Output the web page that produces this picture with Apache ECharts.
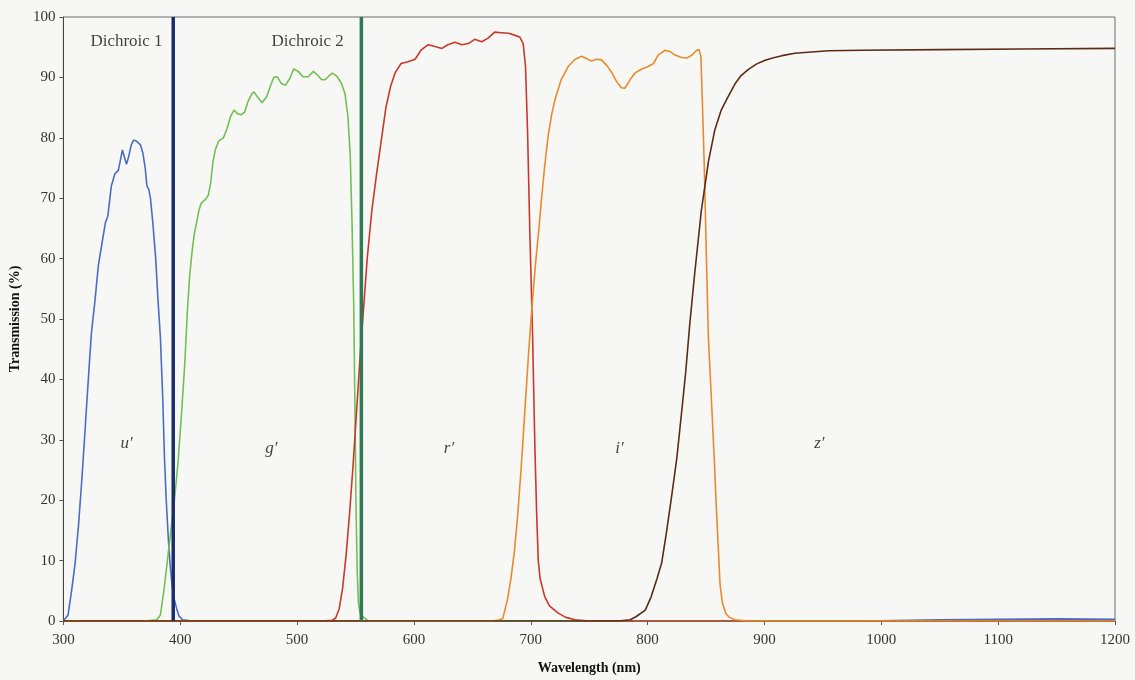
<!DOCTYPE html>
<html>
<head>
<meta charset="utf-8">
<script src="https://cdn.jsdelivr.net/npm/echarts@6/dist/echarts.min.js"></script>
<style>
html, body { margin: 0; padding: 0; background: #f7f8f6; }
#container { width: 1135px; height: 680px; }
</style>
</head>
<body>
<div id="container"></div>
<script>
// filter transmission curves, wavelength (nm) / transmission (%)
var uWl  = [300, 301, 304, 307, 310, 313, 316, 319, 322, 324, 327, 330, 333, 336, 338, 341, 344, 347, 349, 350.5, 352, 354, 356, 358, 360, 362, 364, 366, 368, 370, 371.5, 373, 374.5, 376.5, 379, 381, 383, 385, 386.5, 388, 390, 391.5, 393, 395, 397, 399, 402, 410, 600, 900, 1000, 1050, 1100, 1150, 1200];
var uVal = [0, 0, 1, 5, 9.5, 16, 24, 33, 42, 47.7, 53, 59, 62.5, 66, 67, 72, 74, 74.6, 76.5, 78, 77, 75.6, 77, 78.8, 79.6, 79.5, 79.2, 78.8, 77.5, 75, 72, 71.5, 70, 66, 60, 53, 47, 37, 27, 20, 13, 9, 6, 3.5, 2, 0.8, 0.2, 0, 0, 0, 0.05, 0.2, 0.3, 0.35, 0.3];

var gWl  = [300, 370, 380, 383, 386, 389, 392, 395, 398, 401, 404, 406, 408, 410, 412, 414, 416, 418, 421.5, 424, 426, 428, 430, 433, 437, 440, 443, 446, 449, 452, 455, 458, 461, 463, 466, 470, 474, 477, 480, 483, 486.5, 490, 494, 497, 501, 505, 509.5, 514, 517.5, 521, 524, 527, 530, 534, 538, 541, 543.5, 545.5, 547, 548.5, 549.5, 550.5, 551.5, 552.5, 554, 557, 561, 1200];
var gVal = [0, 0, 0.2, 1, 5, 10, 15, 20, 26, 34, 43, 51, 57, 61, 64, 66, 68, 69.2, 69.8, 70.5, 72.5, 76, 78, 79.5, 80, 81.5, 83.5, 84.6, 84, 83.8, 84.2, 86, 87.2, 87.6, 86.8, 85.8, 86.8, 88.5, 90, 90.1, 89, 88.7, 89.9, 91.4, 91, 90.1, 90.1, 91, 90.4, 89.6, 89.6, 90.2, 90.7, 90.2, 89, 87.3, 83.5, 77, 66, 52, 35, 18, 8, 3, 1.2, 0.6, 0, 0];

var rWl  = [300, 520, 530, 533, 536, 539, 542, 545, 548, 551, 554, 557, 560, 564, 568, 572, 576, 580, 584, 589, 595, 601, 606, 612, 618, 624, 629, 635, 641, 646.5, 652, 658, 663.5, 669, 675, 681, 686, 690.5, 693.5, 695.5, 697.3, 699.2, 701.5, 703.5, 705, 706.4, 708, 712, 716, 723.5, 730, 738, 750, 1200];
var rVal = [0, 0, 0.1, 0.5, 2, 5.5, 11, 18, 26, 35, 44, 52, 60, 68, 74, 79.5, 85, 88.5, 90.8, 92.3, 92.6, 93, 94.5, 95.4, 95.1, 94.8, 95.4, 95.8, 95.4, 95.6, 96.3, 95.9, 96.5, 97.5, 97.4, 97.3, 97, 96.7, 95.6, 91.8, 80.7, 64.2, 47.7, 29, 18, 10, 7, 4, 2.5, 1.3, 0.6, 0.2, 0, 0];

var iWl  = [300, 665, 672, 676, 680, 683, 686, 689, 692, 695, 698, 701, 704, 707, 709, 712, 715, 718, 721, 726, 732, 738, 743.5, 748, 752, 756, 760.5, 765, 769, 773.5, 777.5, 780.5, 785, 789, 795, 800.5, 805, 809, 815, 819, 823.5, 829, 833.5, 838, 842, 844, 845.6, 846.8, 848.5, 850.5, 852, 854.5, 857, 859, 860.5, 862, 864, 867, 870, 875, 885, 1200];
var iVal = [0, 0, 0.1, 0.4, 3.5, 7, 11.5, 18, 26, 35, 44, 52, 59, 65, 69.5, 75.5, 80.5, 84, 86.5, 89.6, 91.8, 93, 93.5, 93.1, 92.7, 93, 92.9, 92, 90.9, 89.3, 88.3, 88.2, 89.6, 90.7, 91.4, 91.8, 92.3, 93.7, 94.5, 94.3, 93.7, 93.3, 93.2, 93.7, 94.5, 94.6, 93.5, 86.3, 75.2, 58.7, 47, 37, 27, 18, 12, 6, 3, 1.2, 0.6, 0.2, 0, 0];

var zWl  = [300, 775, 785, 790, 798, 803, 808, 812, 816, 820.5, 825, 829, 832.5, 836, 840, 846, 852, 857.5, 863, 868, 875, 880, 886, 893, 900, 907, 915, 926, 940, 955, 983, 1050, 1120, 1200];
var zVal = [0, 0, 0.2, 0.7, 1.8, 4, 7, 9.6, 14.5, 20.6, 27, 34.4, 41, 49, 57, 68, 76, 81.3, 84.6, 86.5, 89, 90.3, 91.3, 92.2, 92.8, 93.2, 93.6, 94, 94.2, 94.4, 94.5, 94.6, 94.7, 94.8];

// dichroic cut wavelengths
var dichroicWl = [394, 555];

// text labels in the plot (wavelength, transmission)
var noteText = ['Dichroic 1', 'Dichroic 2', 'u\u2032', 'g\u2032', 'r\u2032', 'i\u2032', 'z\u2032'];
var noteX    = [354, 509, 354, 478, 630, 776, 947];
var noteY    = [95.9, 95.9, 29.3, 28.6, 28.6, 28.6, 29.3];
var noteItalic = [false, false, true, true, true, true, true];

var serif = '"Liberation Serif", "DejaVu Serif", serif';

function pairs(xs, ys) {
    return xs.map(function (x, i) { return [x, ys[i]]; });
}

function curve(name, xs, ys, color) {
    return {
        name: name,
        type: 'line',
        showSymbol: false,
        symbol: 'none',
        smooth: false,
        lineStyle: { width: 1.6, color: color },
        data: pairs(xs, ys)
    };
}

function dichroic(name, wl, color) {
    return {
        name: name,
        type: 'line',
        symbol: 'none',
        lineStyle: { width: 3.5, color: color },
        data: [[wl, 0], [wl, 100]],
        z: 5
    };
}

var myChart = echarts.init(document.getElementById('container'));

var option = {
    backgroundColor: '#f7f8f6',
    animation: false,
    grid: {
        left: 62,
        right: 20,
        top: 17,
        bottom: 59,
        show: true,
        borderColor: '#6a6a6a',
        borderWidth: 1
    },
    xAxis: {
        type: 'value',
        min: 300,
        max: 1200,
        interval: 100,
        name: 'Wavelength (nm)',
        nameLocation: 'middle',
        nameGap: 40,
        nameTextStyle: { fontFamily: serif, fontWeight: 'bold', fontSize: 14, color: '#111' },
        axisLine: { lineStyle: { color: '#555', width: 1 } },
        axisTick: { show: true, length: 4, lineStyle: { color: '#555' } },
        axisLabel: {
            fontFamily: serif, fontSize: 15, color: '#333', margin: 12,
            formatter: function (v) { return String(v); }
        },
        splitLine: { show: false }
    },
    yAxis: {
        type: 'value',
        min: 0,
        max: 100,
        interval: 10,
        name: 'Transmission (%)',
        nameLocation: 'middle',
        nameGap: 37,
        nameTextStyle: { fontFamily: serif, fontWeight: 'bold', fontSize: 14, color: '#111' },
        axisLine: { show: true, lineStyle: { color: '#444', width: 1 } },
        axisTick: { show: true, length: 4, lineStyle: { color: '#555' } },
        axisLabel: { fontFamily: serif, fontSize: 15, color: '#333', margin: 8 },
        splitLine: { show: false }
    },
    series: [
        curve("u'", uWl, uVal, '#4a6cc3'),
        curve("g'", gWl, gVal, '#72c052'),
        curve("r'", rWl, rVal, '#c8382b'),
        curve("i'", iWl, iVal, '#e98a2c'),
        curve("z'", zWl, zVal, '#5c2c14'),
        dichroic('Dichroic 1', dichroicWl[0], '#1c2d6b'),
        dichroic('Dichroic 2', dichroicWl[1], '#2f7a52'),
        {
            name: 'notes',
            type: 'scatter',
            symbolSize: 1,
            itemStyle: { color: 'rgba(0,0,0,0)' },
            z: 6,
            label: {
                show: true,
                position: 'inside',
                formatter: function (p) { return p.name; }
            },
            data: noteText.map(function (t, i) {
                return {
                    name: t,
                    value: [noteX[i], noteY[i]],
                    label: {
                        fontFamily: serif,
                        fontSize: noteItalic[i] ? 17 : 17,
                        fontStyle: noteItalic[i] ? 'italic' : 'normal',
                        color: '#111'
                    }
                };
            })
        }
    ]
};

myChart.setOption(option);
</script>
</body>
</html>
